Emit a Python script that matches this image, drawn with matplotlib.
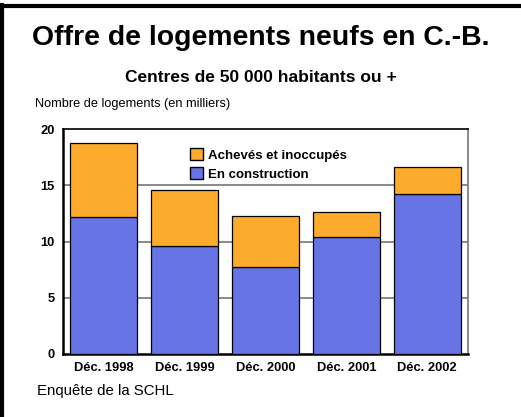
import numpy as np
import matplotlib
matplotlib.use('Agg')
import matplotlib.pyplot as plt
from matplotlib.patches import Patch
from matplotlib.lines import Line2D

plt.rcParams['font.family'] = ['Liberation Sans', 'DejaVu Sans']

# data (thousands of units)
categories = ['Déc. 1998', 'Déc. 1999', 'Déc. 2000', 'Déc. 2001', 'Déc. 2002']
en_construction = [12.2, 9.6, 7.7, 10.4, 14.2]
acheves_inoccupes = [6.6, 5.0, 4.6, 2.2, 2.45]
yticks = [0, 5, 10, 15, 20]

blue = '#6674E6'
orange = '#FCAB2C'

fig = plt.figure(figsize=(5.21, 4.17), dpi=100)
ax = fig.add_axes([63 / 521, 1 - 354 / 417, (467.7 - 63) / 521, (354 - 129.3) / 417])

x = np.arange(len(categories))
ax.bar(x, en_construction, width=0.83, color=blue, edgecolor='black', linewidth=0.9, zorder=3)
ax.bar(x, acheves_inoccupes, width=0.83, bottom=en_construction, color=orange,
       edgecolor='black', linewidth=0.9, zorder=3)

ax.set_xlim(-0.5, len(categories) - 0.5)
ax.set_ylim(0, 20)
ax.set_yticks(yticks)
ax.set_yticklabels([str(v) for v in yticks], fontweight='bold', fontsize=9.3)
ax.set_xticks(x)
ax.set_xticklabels(categories, fontweight='bold', fontsize=9.3)
ax.tick_params(length=0, pad=6)
for v in yticks[1:-1]:
    ax.axhline(v, color='#808080', linewidth=1.3, zorder=1)

ax.spines['left'].set_linewidth(1.8)
ax.spines['bottom'].set_linewidth(1.8)
ax.spines['top'].set_linewidth(1.2)
ax.spines['right'].set_color('#808080')
ax.spines['right'].set_linewidth(1.3)

handles = [Patch(facecolor=orange, edgecolor='black', label='Achevés et inoccupés'),
           Patch(facecolor=blue, edgecolor='black', label='En construction')]
ax.legend(handles=handles, loc='upper left', bbox_to_anchor=(0.302, 0.94), frameon=False,
          prop={'weight': 'bold', 'size': 9.5}, handlelength=0.95, handleheight=1.05,
          handletextpad=0.4, labelspacing=0.4, borderaxespad=0)

fig.text(0.5, 1 - 38 / 417, 'Offre de logements neufs en C.-B.', ha='center', va='center',
         fontsize=20.4, fontweight='bold')
fig.text(0.5, 1 - 78 / 417, 'Centres de 50 000 habitants ou +', ha='center', va='center',
         fontsize=12.5, fontweight='bold')
fig.text(35 / 521, 1 - 104 / 417, 'Nombre de logements (en milliers)', ha='left', va='center',
         fontsize=9.2)
fig.text(37 / 521, 1 - 391 / 417, 'Enquête de la SCHL', ha='left', va='center', fontsize=10.8)

# page border on left and top
fig.add_artist(Line2D([2 / 521, 2 / 521], [0, 1 - 5 / 417], transform=fig.transFigure,
                      color='black', linewidth=3))
fig.add_artist(Line2D([0, 1], [1 - 5.5 / 417, 1 - 5.5 / 417], transform=fig.transFigure,
                      color='black', linewidth=3))

fig.savefig('out.png', dpi=100)
